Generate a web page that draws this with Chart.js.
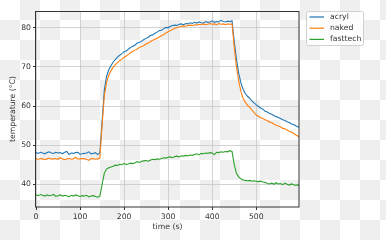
<!DOCTYPE html>
<html>
<head>
<meta charset="utf-8">
<script src="https://cdn.jsdelivr.net/npm/chart.js@4.4.0/dist/chart.umd.min.js"></script>
<style>
html, body { margin: 0; padding: 0; }
body {
  width: 386px; height: 240px;
  background: repeating-conic-gradient(#efefef 0 25%, #fff 0 50%) 0 0 / 40px 40px;
}
</style>
</head>
<body>
<canvas id="myChart" width="386" height="240"></canvas>
<script>
// time in seconds
var times = [
  0, 5, 10, 15, 20, 25, 30, 35, 40, 45,
  50, 55, 60, 65, 70, 75, 80, 85, 90, 95,
  100, 105, 110, 115, 120, 125, 130, 135, 140, 145,
  150, 155, 160, 165, 170, 175, 180, 185, 190, 195,
  200, 205, 210, 215, 220, 225, 230, 235, 240, 245,
  250, 255, 260, 265, 270, 275, 280, 285, 290, 295,
  300, 305, 310, 315, 320, 325, 330, 335, 340, 345,
  350, 355, 360, 365, 370, 375, 380, 385, 390, 395,
  400, 405, 410, 415, 420, 425, 430, 435, 440, 445,
  450, 455, 460, 465, 470, 475, 480, 485, 490, 495,
  500, 505, 510, 515, 520, 525, 530, 535, 540, 545,
  550, 555, 560, 565, 570, 575, 580, 585, 590, 595,
  597
];

var acryl = [
  48.1, 47.9, 48.2, 48.0, 47.8, 48.1, 48.3, 48.0, 47.9, 48.2,
  48.0, 48.1, 47.8, 48.2, 48.4, 47.6, 48.0, 47.9, 48.1, 48.2,
  47.7, 47.8, 47.9, 48.0, 48.3, 47.8, 47.9, 48.1, 47.6, 48.0,
  56.0, 64.0, 67.5, 69.2, 70.3, 71.2, 71.9, 72.5, 73.0, 73.4,
  73.9, 74.1, 74.6, 75.0, 75.3, 75.6, 76.1, 76.3, 76.6, 77.0,
  77.3, 77.6, 78.1, 78.2, 78.6, 78.9, 79.3, 79.4, 79.8, 80.1,
  80.0, 80.4, 80.6, 80.7, 80.6, 80.9, 81.0, 80.8, 81.1, 81.0,
  81.3, 81.1, 81.4, 81.2, 81.5, 81.3, 81.2, 81.6, 81.4, 81.5,
  81.8, 81.4, 81.6, 81.5, 81.9, 81.6, 81.5, 81.7, 81.6, 81.8,
  76.5, 72.0, 68.5, 66.0, 64.3, 63.2, 62.5, 62.0, 61.3, 60.8,
  60.3, 59.9, 59.5, 59.2, 58.7, 58.5, 58.1, 57.9, 57.6, 57.3,
  57.1, 56.8, 56.5, 56.3, 56.0, 55.8, 55.4, 55.3, 54.9, 54.7,
  54.5
];

var naked = [
  46.5, 46.4, 46.6, 46.5, 46.3, 46.5, 46.7, 46.4, 46.5, 46.6,
  46.4, 46.8, 46.5, 46.3, 46.5, 46.6, 46.4, 46.5, 46.9, 46.4,
  46.5, 46.6, 46.5, 46.4, 46.1, 46.5, 46.6, 46.4, 46.5, 46.7,
  55.0, 62.5, 66.0, 67.8, 69.0, 69.9, 70.6, 71.1, 71.6, 72.0,
  72.5, 72.8, 73.2, 73.7, 74.0, 74.3, 74.6, 75.0, 75.2, 75.5,
  75.9, 76.1, 76.5, 76.8, 77.1, 77.3, 77.7, 78.0, 78.3, 78.7,
  79.0, 79.3, 79.6, 79.8, 80.1, 80.2, 80.4, 80.5, 80.4, 80.6,
  80.7, 80.6, 80.8, 80.7, 80.9, 80.8, 81.0, 80.8, 80.9, 81.1,
  80.9, 81.0, 80.8, 81.1, 80.9, 81.0, 80.8, 81.0, 80.9, 81.0,
  75.0, 70.0, 66.5, 63.8, 62.0, 61.0, 60.2, 59.7, 59.0, 58.3,
  57.7, 57.4, 57.0, 56.8, 56.5, 56.3, 55.9, 55.8, 55.4, 55.1,
  54.9, 54.7, 54.3, 54.2, 53.9, 53.5, 53.4, 53.0, 52.6, 52.3,
  52.0
];

var fasttech = [
  37.3, 37.1, 37.4, 37.2, 37.0, 37.3, 37.1, 37.2, 37.4, 36.9,
  37.1, 37.3, 37.0, 37.2, 37.1, 36.8, 37.2, 37.0, 37.3, 37.1,
  36.9, 37.1, 37.0, 37.2, 36.8, 37.0, 37.1, 36.9, 36.7, 37.0,
  40.0, 42.8, 43.9, 44.2, 44.4, 44.6, 44.9, 44.8, 45.1, 45.0,
  45.3, 45.1, 45.2, 45.4, 45.3, 45.5, 45.8, 45.6, 45.9, 46.0,
  46.1, 45.9, 46.2, 46.4, 46.3, 46.5, 46.4, 46.6, 46.8, 46.7,
  46.9, 47.0, 46.8, 47.1, 47.2, 47.0, 47.3, 47.2, 47.4, 47.3,
  47.5, 47.4, 47.6, 47.8, 47.5, 47.9, 47.8, 48.0, 47.9, 48.1,
  48.0, 47.6, 48.2, 48.1, 48.3, 48.2, 48.4, 48.3, 48.6, 48.4,
  45.0, 42.8, 41.9, 41.4, 41.1, 41.0, 40.9, 41.0, 40.8, 40.9,
  40.8, 40.7, 40.8, 40.6, 40.5, 40.2, 40.1, 40.3, 40.0, 40.4,
  40.1, 40.2, 39.9, 40.3, 40.0, 39.8, 40.1, 39.9, 39.7, 39.9,
  39.7
];

var xTicks = [0, 100, 200, 300, 400, 500];
var yTicks = [40, 50, 60, 70, 80];
var seriesNames = ["acryl", "naked", "fasttech"];
var seriesColors = ["#1f77b4", "#ff7f0e", "#2ca02c"];

function points(vals) {
  var out = [];
  for (var i = 0; i < times.length; i++) out.push({x: times[i], y: vals[i]});
  return out;
}

Chart.defaults.font.family = "'DejaVu Sans', sans-serif";
Chart.defaults.font.size = 7.7;
Chart.defaults.color = '#333';

// axes frame (matplotlib spines)
var frame = {
  id: 'frame',
  afterDatasetsDraw: function(chart) {
    var a = chart.chartArea, c = chart.ctx;
    c.save();
    c.strokeStyle = '#333';
    c.lineWidth = 1;
    c.strokeRect(Math.round(a.left) - 0.5, Math.round(a.top) + 0.5,
      Math.round(a.right - a.left) + 0.5, Math.round(a.bottom - a.top) - 0.5);
    c.restore();
  }
};

// legend box outside the axes, upper right
var legendBox = {
  id: 'legendBox',
  afterDraw: function(chart) {
    var c = chart.ctx;
    c.save();
    c.fillStyle = 'rgba(255,255,255,0.8)';
    c.strokeStyle = 'rgba(204,204,204,0.9)';
    c.lineWidth = 1;
    c.beginPath();
    if (c.roundRect) c.roundRect(306.5, 11.5, 57, 34, 2);
    else c.rect(306.5, 11.5, 57, 34);
    c.fill();
    c.stroke();
    c.font = "7.7px 'DejaVu Sans'";
    c.textBaseline = 'middle';
    c.fillStyle = '#333';
    for (var i = 0; i < seriesNames.length; i++) {
      var y = 17 + i * 11.2;
      c.strokeStyle = seriesColors[i];
      c.lineWidth = 1.2;
      c.beginPath();
      c.moveTo(309.5, y);
      c.lineTo(324, y);
      c.stroke();
      c.fillText(seriesNames[i], 330, y);
    }
    c.restore();
  }
};

var ds = [];
var seriesData = [acryl, naked, fasttech];
for (var k = 0; k < seriesNames.length; k++) {
  ds.push({
    label: seriesNames[k],
    data: points(seriesData[k]),
    borderColor: seriesColors[k],
    backgroundColor: seriesColors[k],
    borderWidth: 1.1,
    pointRadius: 0,
    tension: 0,
    order: 3 - k
  });
}

var ctx = document.getElementById("myChart").getContext('2d');
var myChart = new Chart(ctx, {
  type: 'line',
  data: { datasets: ds },
  options: {
    responsive: false,
    animation: false,
    devicePixelRatio: 1,
    layout: { padding: { top: 11, right: 87, left: 0, bottom: 0 } },
    plugins: { legend: { display: false }, tooltip: { enabled: false } },
    scales: {
      x: {
        type: 'linear',
        min: 0,
        max: 597,
        afterBuildTicks: function(s) { s.ticks = xTicks.map(function(v) { return {value: v}; }); },
        afterFit: function(s) { s.height = 33; },
        grid: { color: '#c8c8c8', lineWidth: 0.8, tickColor: '#333', tickLength: 3, tickWidth: 1 },
        border: { display: false },
        ticks: { padding: 2, maxRotation: 0, color: '#333' },
        title: { display: true, text: 'time (s)', color: '#333', padding: { top: 0, bottom: 8 } }
      },
      y: {
        min: 34.2,
        max: 84.3,
        afterBuildTicks: function(s) { s.ticks = yTicks.map(function(v) { return {value: v}; }); },
        afterFit: function(s) { s.width = 36; },
        grid: { color: '#c8c8c8', lineWidth: 0.8, tickColor: '#333', tickLength: 3, tickWidth: 1 },
        border: { display: false },
        ticks: { padding: 2, color: '#333' },
        title: { display: true, text: 'temperature (°C)', color: '#333', padding: { top: 8, bottom: 0 } }
      }
    }
  },
  plugins: [frame, legendBox]
});
</script>
</body>
</html>
